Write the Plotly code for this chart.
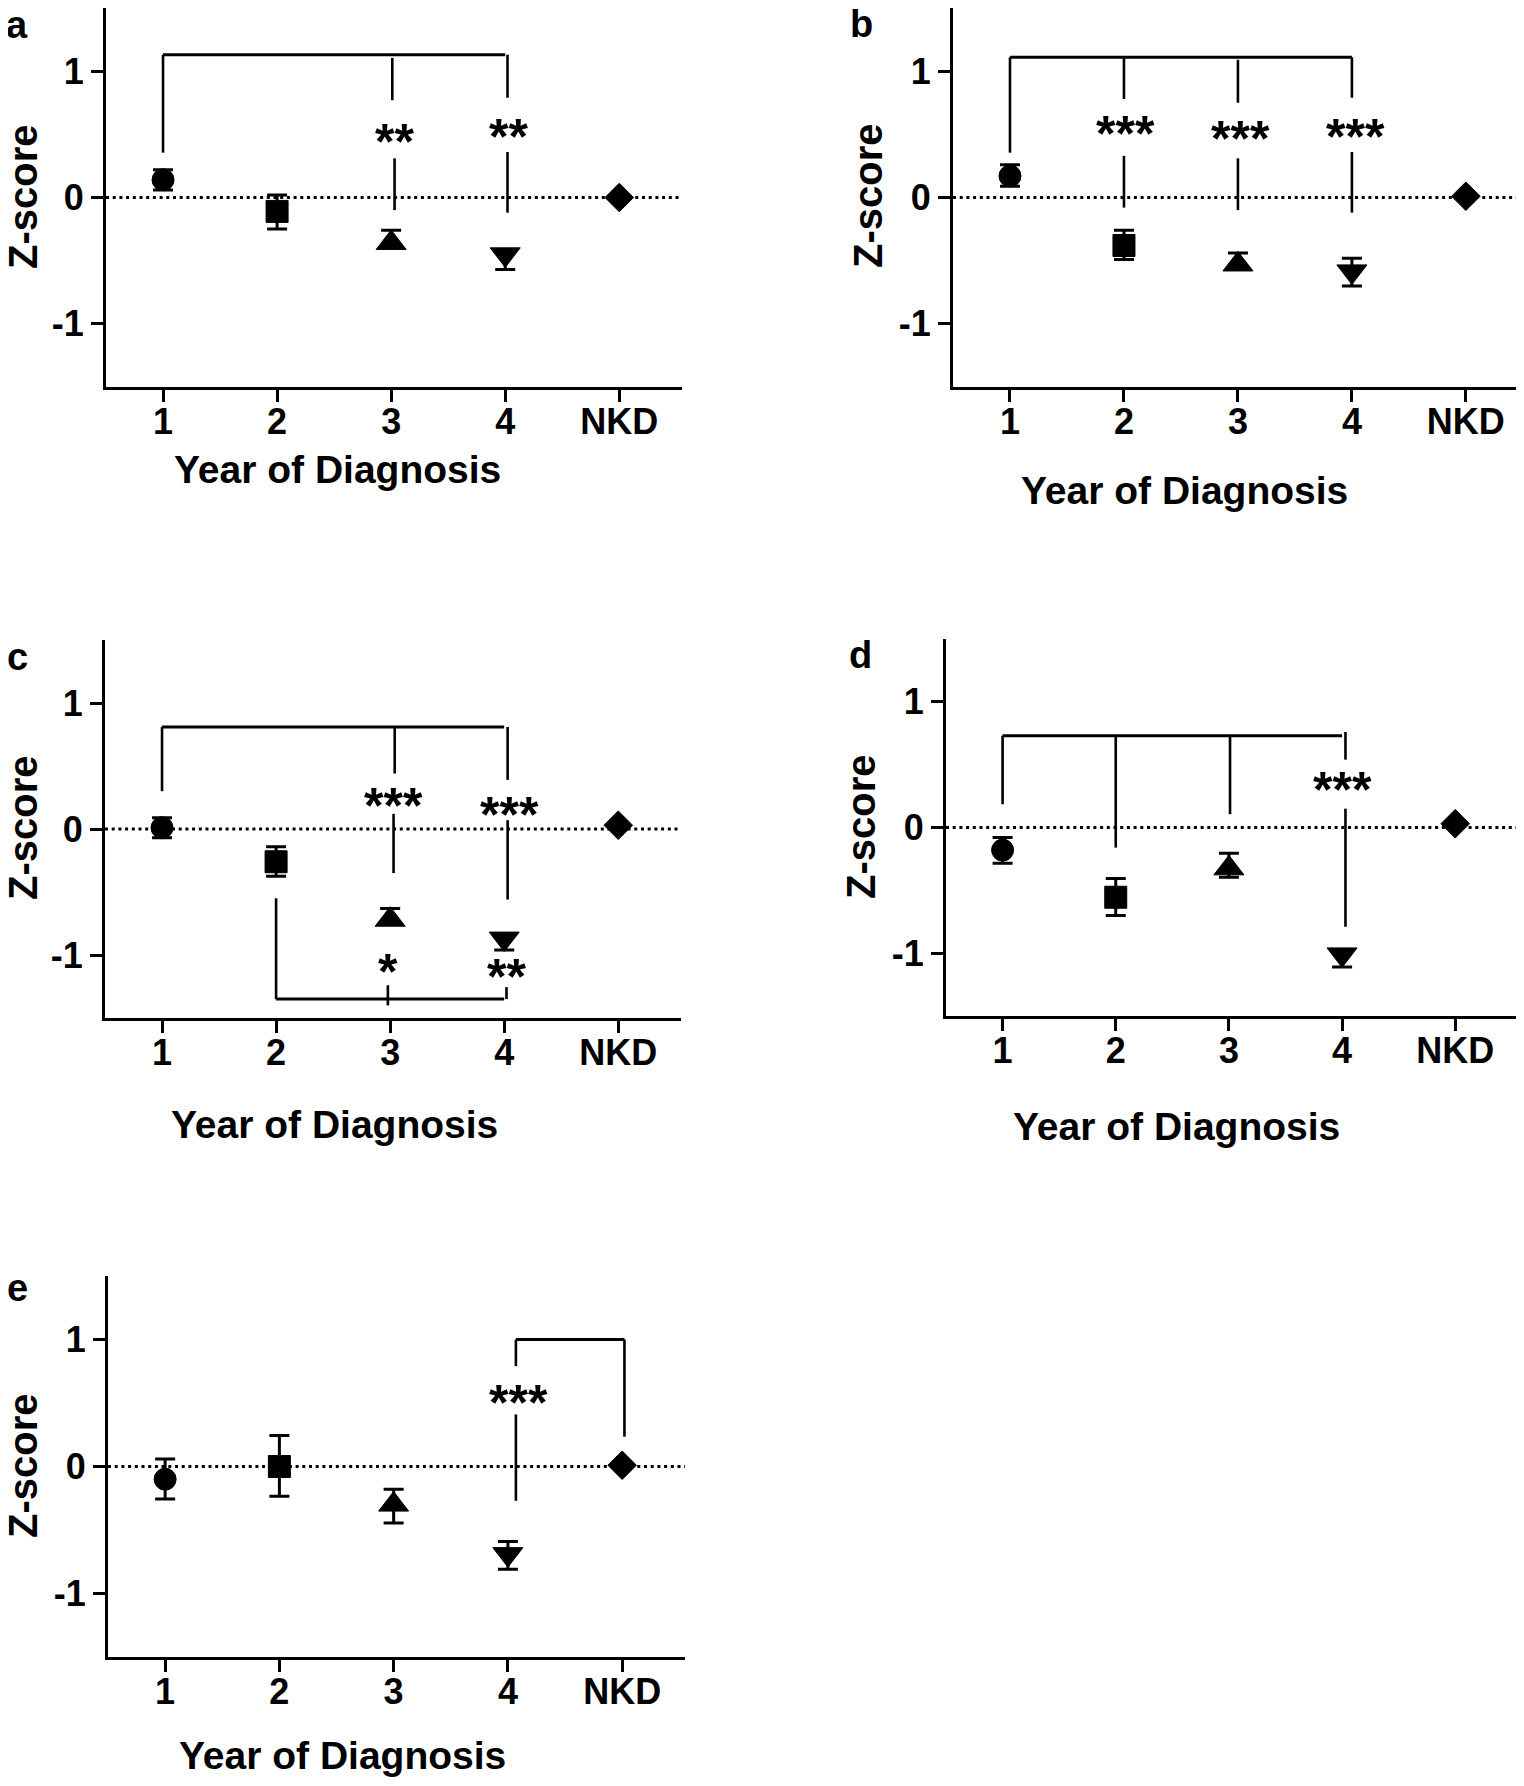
import plotly.graph_objects as go

# page size; the page body adds an 8px margin, so the figure is drawn 8px smaller
W, H = 1524, 1786
PAD = 8
FW, FH = W - PAD, H - PAD

# categories along x
groups = ["1", "2", "3", "4", "NKD"]
xpos = [1, 2, 3, 4, 5]
symbols = ["circle", "square", "triangle-up", "triangle-down", "diamond"]

# mean z-scores + visible error bar extents (up / down) per panel
mean_a = [0.14, -0.11, -0.36, -0.45, 0.0]
up_a = [0.08, 0.13, 0.10, 0.03, 0.0]
down_a = [0.08, 0.14, 0.03, 0.12, 0.0]

mean_b = [0.17, -0.38, -0.53, -0.585, 0.01]
up_b = [0.09, 0.12, 0.09, 0.105, 0.0]
down_b = [0.08, 0.11, 0.03, 0.115, 0.0]

mean_c = [0.01, -0.26, -0.72, -0.87, 0.03]
up_c = [0.08, 0.12, 0.09, 0.03, 0.0]
down_c = [0.08, 0.115, 0.03, 0.09, 0.0]

mean_d = [-0.18, -0.555, -0.325, -1.01, 0.03]
up_d = [0.10, 0.15, 0.12, 0.03, 0.0]
down_d = [0.105, 0.145, 0.07, 0.10, 0.0]

mean_e = [-0.10, 0.0, -0.30, -0.69, 0.01]
up_e = [0.16, 0.245, 0.12, 0.10, 0.0]
down_e = [0.155, 0.235, 0.145, 0.12, 0.0]

# significance brackets: horizontal bars (x from, x to, height)
bars_a = [(1, 4, 1.13)]
bars_b = [(1, 4, 1.11)]
bars_c = [(1, 4, 0.81), (2, 4, -1.35)]
bars_d = [(1, 4, 0.73)]
bars_e = [(4.07, 5.02, 1.0)]

# vertical ticks of the brackets: (x, top, bottom)
drops_a = [(1, 1.13, 0.355), (3.01, 1.105, 0.77), (4.02, 1.13, 0.79),
           (3.03, 0.31, -0.10), (4.02, 0.36, -0.12)]
drops_b = [(1, 1.11, 0.355), (2, 1.11, 0.78), (3, 1.09, 0.75), (4, 1.11, 0.79),
           (2, 0.33, -0.08), (3, 0.31, -0.10), (4, 0.36, -0.12)]
drops_c = [(1, 0.81, 0.30), (3.04, 0.81, 0.44), (4.03, 0.81, 0.39),
           (3.03, 0.12, -0.35), (4.03, 0.07, -0.56),
           (2, -1.35, -0.55), (2.98, -1.40, -1.24), (4.02, -1.35, -1.255)]
drops_d = [(1, 0.73, 0.185), (2, 0.73, -0.16), (3.01, 0.73, 0.106),
           (4.03, 0.76, 0.54), (4.03, 0.15, -0.79)]
drops_e = [(4.07, 1.0, 0.79), (5.02, 1.0, 0.235), (4.07, 0.41, -0.27)]

# asterisks: (x, y, text)
stars_a = [(3.03, 0.49, "**"), (4.03, 0.53, "**")]
stars_b = [(2.01, 0.55, "***"), (3.02, 0.51, "***"), (4.03, 0.53, "***")]
stars_c = [(3.03, 0.23, "***"), (4.05, 0.16, "***"), (2.98, -1.09, "*"), (4.02, -1.13, "**")]
stars_d = [(4.0, 0.35, "***")]
stars_e = [(4.09, 0.55, "***")]

panels = [
    # letter, means, ups, downs, bars, drops, stars, box px (l, r, t, b), xmax, letter pos, ytitle pos, xtitle pos
    ("a", mean_a, up_a, down_a, bars_a, drops_a, stars_a, (106, 682, 8, 387), 5.55, (17, 25), (23, 197), (337, 470)),
    ("b", mean_b, up_b, down_b, bars_b, drops_b, stars_b, (953, 1524, 8, 387), 5.51, (861, 24), (868, 196), (1184, 491)),
    ("c", mean_c, up_c, down_c, bars_c, drops_c, stars_c, (105, 681, 640, 1018), 5.55, (17, 657), (23, 828), (334, 1124)),
    ("d", mean_d, up_d, down_d, bars_d, drops_d, stars_d, (946, 1522, 639, 1016), 5.59, (860, 655), (861, 827), (1176, 1126)),
    ("e", mean_e, up_e, down_e, bars_e, drops_e, stars_e, (108, 685, 1276, 1657), 5.55, (17, 1288), (23, 1466), (342, 1755)),
]

FONT = "Arial, Liberation Sans, sans-serif"
marker_sizes = [22, 22, 26, 26, 22]


def fx(px):
    return min(max((px - PAD) / FW, 0), 1)


def fy(py):
    return min(max(1 - (py - PAD) / FH, 0), 1)


fig = go.Figure()
shapes = []
annotations = []

for i, (letter, mean, up, down, bars, drops, stars, box, xmax, lpos, ytpos, xtpos) in enumerate(panels):
    n = "" if i == 0 else str(i + 1)
    xa, ya = "x" + n, "y" + n
    l, r, t, b = box

    fig.add_trace(go.Scatter(
        x=xpos, y=mean, mode="markers", xaxis=xa, yaxis=ya, showlegend=False,
        marker=dict(symbol=symbols, size=marker_sizes, color="#000000", opacity=1,
                    line=dict(color="#000000", width=1)),
        error_y=dict(type="data", symmetric=False, array=up, arrayminus=down,
                     color="#000000", thickness=3, width=10),
    ))

    fig.layout["xaxis" + n] = dict(
        domain=[fx(l), fx(r)], anchor=ya, range=[0.5, xmax],
        tickvals=xpos, ticktext=groups, showline=True, linewidth=3, linecolor="black",
        ticks="outside", ticklen=12, tickwidth=3, tickcolor="black", ticklabelstandoff=-11,
        showgrid=False, zeroline=False,
        tickfont=dict(family=FONT, size=36, color="black", weight="bold"),
    )
    fig.layout["yaxis" + n] = dict(
        domain=[fy(b), fy(t)], anchor=xa, range=[-1.5, 1.5],
        tickvals=[-1, 0, 1], ticktext=["-1", "0", "1"],
        showline=True, linewidth=3, linecolor="black",
        ticks="outside", ticklen=12, tickwidth=3, tickcolor="black",
        showgrid=False, zeroline=False,
        tickfont=dict(family=FONT, size=36, color="black", weight="bold"),
    )

    # dotted zero line
    shapes.append(dict(type="line", xref=xa + " domain", yref=ya, x0=0, x1=1, y0=0, y1=0,
                       line=dict(color="black", width=3, dash="3px,3.7px")))
    for x0, x1, yb in bars:
        shapes.append(dict(type="line", xref=xa, yref=ya, x0=x0, x1=x1, y0=yb, y1=yb,
                           line=dict(color="black", width=3)))
    for xd, ytop, ybot in drops:
        shapes.append(dict(type="line", xref=xa, yref=ya, x0=xd, x1=xd, y0=ytop, y1=ybot,
                           line=dict(color="black", width=2.6)))
    for xs, ys, txt in stars:
        annotations.append(dict(x=xs, y=ys, xref=xa, yref=ya, text=txt, showarrow=False,
                                xanchor="center", yanchor="middle", yshift=-6,
                                font=dict(family=FONT, size=50, color="black", weight="bold")))

    annotations.append(dict(x=fx(lpos[0]), y=fy(lpos[1]), xref="paper", yref="paper",
                            text=letter, showarrow=False, xanchor="center", yanchor="middle",
                            font=dict(family=FONT, size=38, color="black", weight="bold")))
    annotations.append(dict(x=fx(ytpos[0]), y=fy(ytpos[1]), xref="paper", yref="paper",
                            text="Z-score", textangle=-90, showarrow=False,
                            xanchor="center", yanchor="middle",
                            font=dict(family=FONT, size=40, color="black", weight="bold")))
    annotations.append(dict(x=fx(xtpos[0]), y=fy(xtpos[1]), xref="paper", yref="paper",
                            text="Year of Diagnosis", showarrow=False,
                            xanchor="center", yanchor="middle",
                            font=dict(family=FONT, size=39, color="black", weight="bold")))

fig.update_layout(
    width=FW, height=FH, margin=dict(l=0, r=0, t=0, b=0),
    plot_bgcolor="white", paper_bgcolor="white",
    shapes=shapes, annotations=annotations,
)

fig.write_html("out.html")
